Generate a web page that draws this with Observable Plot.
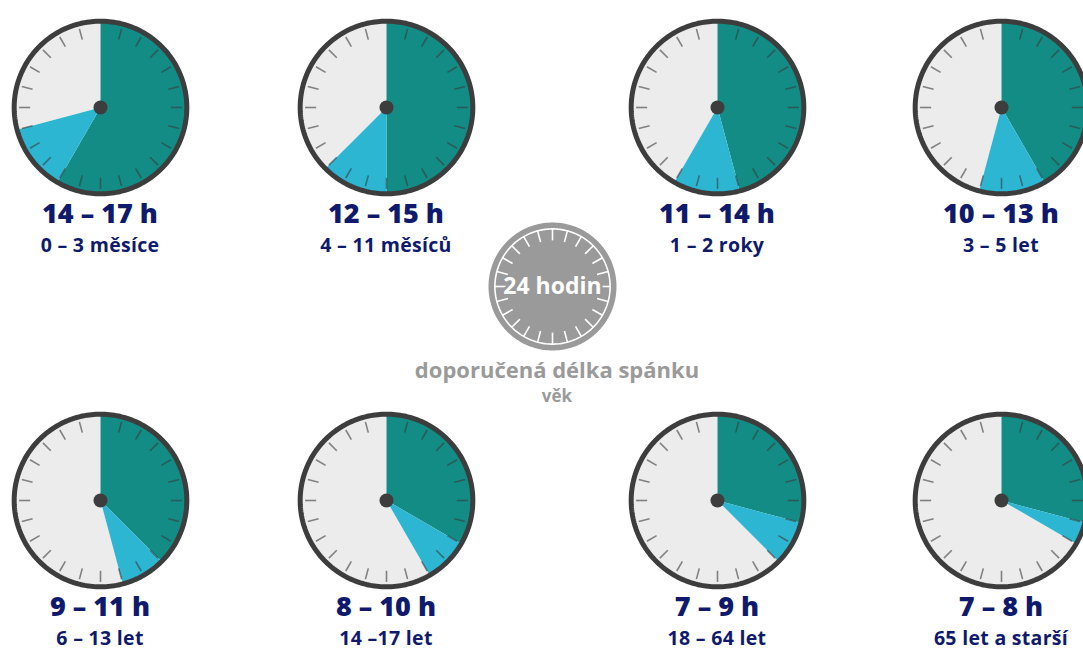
<!DOCTYPE html>
<html lang="cs">
<head>
<meta charset="utf-8">
<script src="https://cdn.jsdelivr.net/npm/d3@7"></script>
<script src="https://cdn.jsdelivr.net/npm/@observablehq/plot@0.6"></script>
<style>
  html, body { margin: 0; padding: 0; background: #fff; }
  #chart { position: relative; width: 1083px; height: 650px; overflow: hidden; font-family: "Open Sans", "Noto Sans", sans-serif; }
  .card { position: absolute; width: 260px; text-align: center; }
  .card svg { display: block; margin: 0 auto; }
  .range { position: absolute; left: 0; width: 260px; font-weight: 800; font-size: 27px; color: #0f1a6c; line-height: 1; }
  .age { position: absolute; left: 0; width: 260px; font-weight: 700; font-size: 19.5px; letter-spacing: 0.3px; color: #0f1a6c; line-height: 1; }
  .legend { position: absolute; text-align: center; color: #9a9a9a; font-weight: 700; }
</style>
</head>
<body>
<div id="chart"></div>
<script>
// Recommended sleep duration per age group (hours out of 24)
const ageGroups = ["0 – 3 měsíce", "4 – 11 měsíců", "1 – 2 roky", "3 – 5 let",
                   "6 – 13 let", "14 –17 let", "18 – 64 let", "65 let a starší"];
const minHours = [14, 12, 11, 10, 9, 8, 7, 7];
const maxHours = [17, 15, 14, 13, 11, 10, 9, 8];
const hoursInDay = 24;

// Colours
const teal = "#128c85";
const sky = "#2cb6d2";
const face = "#ececec";
const rimColor = "#3d3d3d";

// Layout of the 4×2 grid of clocks (centre points in page pixels)
const colCenters = [100, 386, 717, 1001];
const rowCenters = [107, 500];
const R = 89; // clock radius in pixels

// Point on the clock face: hour 0 at the top, running clockwise
function polar(h, r) {
  const a = (h / hoursInDay) * 2 * Math.PI;
  return {x: r * Math.sin(a), y: r * Math.cos(a)};
}

// Closed wedge from hour h0 to h1
function wedge(h0, h1, r, key) {
  const pts = [{x: 0, y: 0, key}];
  const steps = Math.max(2, Math.ceil((h1 - h0) * 8));
  for (let i = 0; i <= steps; i++) {
    const p = polar(h0 + (h1 - h0) * i / steps, r);
    pts.push({...p, key});
  }
  pts.push({x: 0, y: 0, key});
  return pts;
}

function ring(r) {
  return d3.range(0, 241).map(i => polar(i / 10, r));
}

const hourTicks = d3.range(1, hoursInDay).map(h => {
  const a = polar(h, 0.79), b = polar(h, 0.915);
  return {x1: a.x, y1: a.y, x2: b.x, y2: b.y};
});

function clock(lo, hi) {
  const m = 2;
  return Plot.plot({
    width: 2 * R + 2 * m, height: 2 * R + 2 * m,
    margin: m,
    x: {domain: [-1, 1], axis: null},
    y: {domain: [-1, 1], axis: null},
    marks: [
      Plot.line(wedge(hi, hoursInDay, 0.97, "rest"), {x: "x", y: "y", fill: face, stroke: "none"}),
      Plot.line(wedge(0, lo, 0.97, "min"), {x: "x", y: "y", fill: teal, stroke: "none"}),
      Plot.line(wedge(lo, hi, 0.97, "range"), {x: "x", y: "y", fill: sky, stroke: "none"}),
      Plot.link(hourTicks, {x1: "x1", y1: "y1", x2: "x2", y2: "y2", stroke: "#3a3a3a", strokeOpacity: 0.6, strokeWidth: 1.6}),
      Plot.line(ring(0.97), {x: "x", y: "y", stroke: rimColor, strokeWidth: 5, fill: "none"}),
      Plot.dot([{x: 0, y: 0}], {x: "x", y: "y", r: 7, fill: rimColor, stroke: "none"})
    ]
  });
}

const chart = document.getElementById("chart");

ageGroups.forEach((age, i) => {
  const cx = colCenters[i % 4];
  const cy = rowCenters[Math.floor(i / 4)];
  const card = document.createElement("div");
  card.className = "card";
  card.style.left = (cx - 130) + "px";
  card.style.top = (cy - R - 2) + "px";
  card.style.height = "280px";
  card.appendChild(clock(minHours[i], maxHours[i]));

  const range = document.createElement("div");
  range.className = "range";
  range.style.top = (R + 2 + 119 - 27) + "px";
  range.textContent = `${minHours[i]} – ${maxHours[i]} h`;
  card.appendChild(range);

  const ageLabel = document.createElement("div");
  ageLabel.className = "age";
  ageLabel.style.top = (R + 2 + 148 - 20) + "px";
  ageLabel.textContent = age;
  card.appendChild(ageLabel);

  chart.appendChild(card);
});

// Legend: the 24-hour dial and the meaning of the two text lines
const LR = 64;
const legendTicks = d3.range(0, hoursInDay).map(h => {
  const a = polar(h, 0.72), b = polar(h, 0.90);
  return {x1: a.x, y1: a.y, x2: b.x, y2: b.y};
});
const legendDial = Plot.plot({
  width: 2 * LR + 4, height: 2 * LR + 4,
  margin: 2,
  x: {domain: [-1, 1], axis: null},
  y: {domain: [-1, 1], axis: null},
  marks: [
    Plot.line(wedge(0, hoursInDay, 1, "day"), {x: "x", y: "y", fill: "#9a9a9a", stroke: "none"}),
    Plot.link(legendTicks, {x1: "x1", y1: "y1", x2: "x2", y2: "y2", stroke: "#fff", strokeWidth: 1.6}),
    Plot.line(ring(0.90), {x: "x", y: "y", stroke: "#fff", strokeWidth: 1.6, fill: "none"}),
    Plot.text([`${hoursInDay} hodin`], {x: 0, y: 0, text: d => d, fill: "#fff", stroke: "#9a9a9a", strokeWidth: 5,
      fontSize: 23, fontWeight: 700, fontFamily: "Open Sans, sans-serif"})
  ]
});
const legend = document.createElement("div");
legend.style.position = "absolute";
legend.style.left = (552 - LR - 2) + "px";
legend.style.top = (286 - LR - 2) + "px";
legend.appendChild(legendDial);
chart.appendChild(legend);

const l1 = document.createElement("div");
l1.className = "legend";
l1.style.left = "357px"; l1.style.width = "400px";
l1.style.top = "354px"; l1.style.fontSize = "22px";
l1.textContent = "doporučená délka spánku";
chart.appendChild(l1);

const l2 = document.createElement("div");
l2.className = "legend";
l2.style.left = "357px"; l2.style.width = "400px";
l2.style.top = "384px"; l2.style.fontSize = "17px";
l2.textContent = "věk";
chart.appendChild(l2);
</script>
</body>
</html>
